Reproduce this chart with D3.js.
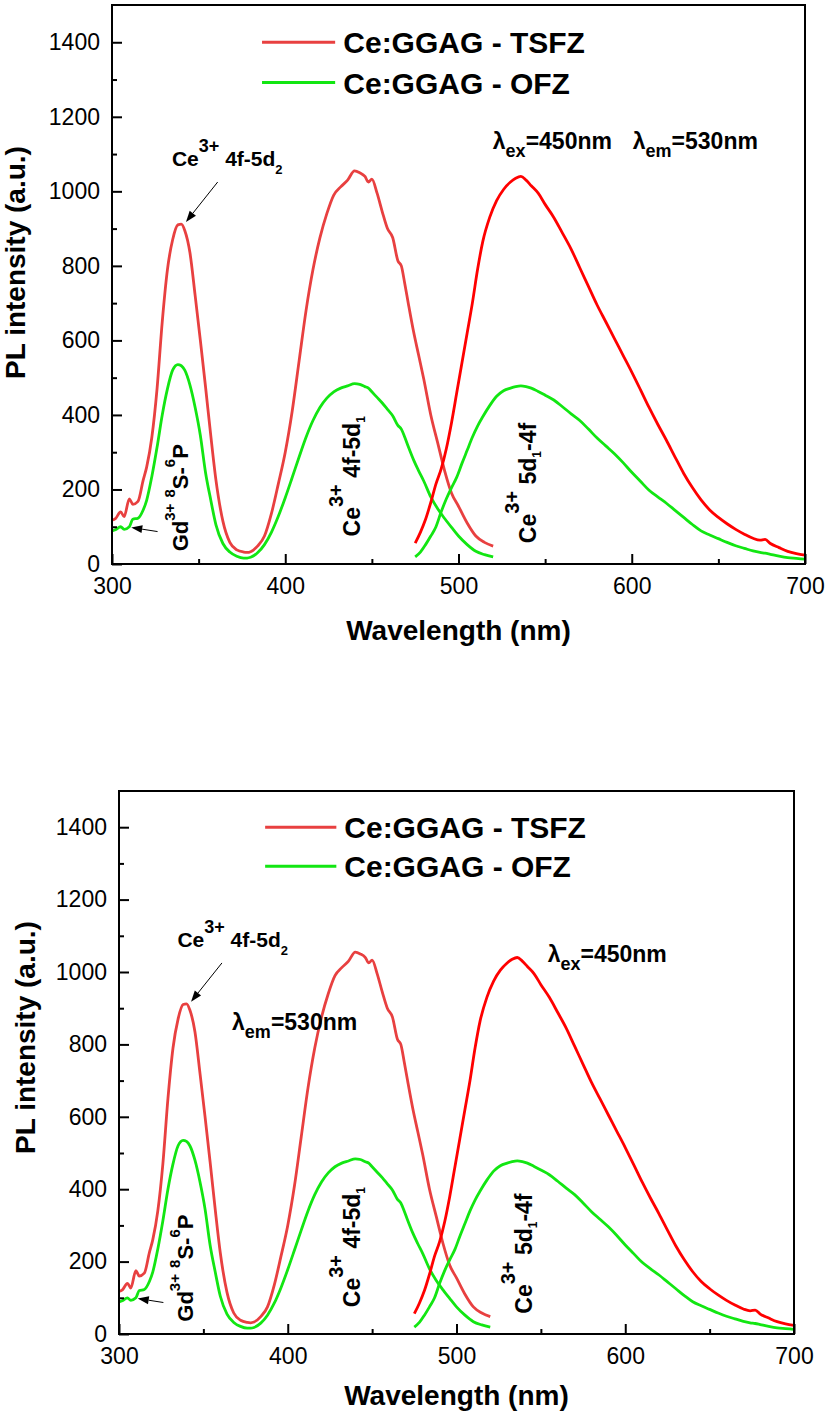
<!DOCTYPE html>
<html>
<head>
<meta charset="utf-8">
<script src="https://cdn.jsdelivr.net/npm/d3@7"></script>
<style>
  body { margin: 0; background: #fff; }
  svg { display: block; }
  text { font-family: "Liberation Sans", Arial, sans-serif; white-space: pre; }
</style>
</head>
<body>
<div id="chart"></div>
<script>
// excitation spectra (lambda_em = 530 nm)
const excWl = [300, 302, 305, 307, 310, 312, 315, 318, 320, 323, 326, 329, 332, 335, 338, 340, 342, 345, 348, 351,
  354, 357, 360, 364, 368, 372, 376, 378, 380, 384, 388, 392, 396, 400, 404, 408, 412, 416, 420, 424,
  428, 432, 436, 440, 443, 446, 448, 450, 453, 456, 459, 462, 465, 467, 469, 471, 474, 477, 480, 484,
  488, 492, 496, 500, 505, 510, 515, 520];
const excTSFZ = [118, 122, 140, 127, 175, 160, 168, 225, 260, 340, 470, 650, 790, 870, 910, 912, 895, 835, 720, 600,
  475, 345, 225, 115, 58, 38, 32, 31, 33, 48, 75, 135, 215, 300, 410, 545, 680, 790, 875, 940,
  990, 1012, 1030, 1055, 1050, 1040, 1025, 1033, 995, 945, 900, 876, 814, 800, 752, 700, 625, 560, 495, 400,
  325, 250, 190, 155, 110, 75, 58, 48];
const excOFZ = [89, 92, 100, 93, 100, 120, 123, 145, 171, 235, 313, 400, 470, 520, 535, 532, 520, 480, 420, 345,
  245, 172, 105, 55, 32, 21, 16, 16, 18, 30, 52, 85, 128, 178, 232, 287, 340, 385, 420, 445,
  462, 472, 478, 484, 482, 476, 472, 462, 447, 432, 415, 398, 372, 362, 340, 315, 280, 250, 222, 180,
  148, 122, 98, 75, 52, 34, 25, 19];

// emission spectra (lambda_ex = 450 nm)
const emWl = [475, 478, 481, 484, 487, 490, 493, 496, 499, 502, 505, 508, 511, 514, 518, 522, 526, 530, 533, 536,
  539, 542, 546, 550, 555, 560, 565, 570, 575, 580, 585, 590, 595, 600, 605, 610, 615, 620, 625, 630,
  635, 640, 645, 650, 655, 660, 665, 670, 674, 677, 680, 685, 690, 695, 700];
const emTSFZ = [56, 85, 120, 165, 215, 255, 310, 380, 460, 540, 620, 700, 790, 865, 930, 975, 1005, 1025, 1035, 1040,
  1030, 1015, 995, 965, 930, 888, 845, 795, 745, 695, 650, 605, 560, 515, 468, 420, 375, 332, 287, 243,
  205, 172, 145, 125, 108, 93, 80, 69, 64, 66, 55, 44, 34, 28, 24];
const emOFZ = [19, 32, 52, 75, 100, 140, 175, 205, 233, 270, 305, 340, 370, 395, 425, 450, 465, 472, 476, 478,
  476, 472, 463, 453, 440, 422, 403, 385, 362, 338, 317, 296, 272, 246, 222, 198, 180, 163, 144, 125,
  106, 89, 78, 68, 58, 49, 42, 35, 31, 29, 26, 21, 17, 15, 13];

const xTicks = [300, 400, 500, 600, 700];
const xMinor = [350, 450, 550, 650];
const yTicks = [0, 200, 400, 600, 800, 1000, 1200, 1400];
const yMinor = [100, 300, 500, 700, 900, 1100, 1300];
const legendLabels = ["Ce:GGAG - TSFZ", "Ce:GGAG - OFZ"];

const RED_EXC = "#e84040";
const RED_EM = "#ff0000";
const GREEN = "#12e612";

const W = 827, H = 1417;
const svg = d3.select("#chart").append("svg").attr("width", W).attr("height", H);

// two panels, same data, slightly different annotation layout
const panels = [
  {
    box: { left: 112, right: 805, top: 5, bottom: 564 },
    yLab: { dx: -87, dy: -22 }, xLabOff: 76,
    lambda: [
      { sub: "ex", val: "=450nm", at: [519.8, 1114] },
      { sub: "em", val: "=530nm", at: [600.6, 1114] }
    ]
  },
  {
    box: { left: 119, right: 794, top: 791, bottom: 1334 },
    yLab: { dx: -84, dy: -25 }, xLabOff: 71,
    lambda: [
      { sub: "em", val: "=530nm", at: [367, 840] },
      { sub: "ex", val: "=450nm", at: [554, 1028] }
    ]
  }
];

function rich(g, parts, size, x, y, rot) {
  const t = g.append("text")
    .attr("font-weight", "bold")
    .attr("font-size", size)
    .attr("fill", "#000")
    .attr("transform", `translate(${x},${y})` + (rot ? " rotate(-90)" : ""));
  let shift = 0;
  parts.forEach(p => {
    const off = p.off || 0; // positive = down
    t.append("tspan")
      .attr("dy", off - shift)
      .attr("font-size", p.size || size)
      .text(p.t);
    shift = off;
  });
  return t;
}

function arrow(g, x1, y1, x2, y2) {
  const ang = Math.atan2(y2 - y1, x2 - x1);
  const L = 11, wd = 4;
  const bx = x2 - L * Math.cos(ang), by = y2 - L * Math.sin(ang);
  g.append("line")
    .attr("x1", x1).attr("y1", y1).attr("x2", bx).attr("y2", by)
    .attr("stroke", "#000").attr("stroke-width", 1);
  const px = -Math.sin(ang) * wd, py = Math.cos(ang) * wd;
  g.append("path")
    .attr("d", `M${x2},${y2}L${bx + px},${by + py}L${bx - px},${by - py}Z`)
    .attr("fill", "#000");
}

panels.forEach(p => {
  const b = p.box;
  const g = svg.append("g");

  const x = d3.scaleLinear().domain([300, 700]).range([b.left, b.right]);
  const y = d3.scaleLinear().domain([0, 1500]).range([b.bottom, b.top]);

  // curves
  const line = d3.line().x(d => x(d[0])).y(d => y(d[1])).curve(d3.curveMonotoneX);
  const series = [
    { wl: excWl, v: excTSFZ, c: RED_EXC },
    { wl: excWl, v: excOFZ, c: GREEN },
    { wl: emWl, v: emTSFZ, c: RED_EM },
    { wl: emWl, v: emOFZ, c: GREEN }
  ];
  series.forEach(s => {
    g.append("path")
      .datum(s.wl.map((w, i) => [w, s.v[i]]))
      .attr("d", line)
      .attr("fill", "none")
      .attr("stroke", s.c)
      .attr("stroke-width", 2.8)
      .attr("stroke-linejoin", "round");
  });

  // axes, ticks pointing inward
  const xAxis = g.append("g").attr("transform", `translate(0,${b.bottom})`)
    .call(d3.axisBottom(x).tickValues(xTicks).tickFormat(d3.format("d"))
      .tickSize(-10).tickSizeOuter(0).tickPadding(14));
  g.append("g").attr("transform", `translate(0,${b.bottom})`)
    .call(d3.axisBottom(x).tickValues(xMinor).tickSize(-5).tickSizeOuter(0).tickFormat(""));
  const yAxis = g.append("g").attr("transform", `translate(${b.left},0)`)
    .call(d3.axisLeft(y).tickValues(yTicks).tickFormat(d3.format("d"))
      .tickSize(-10).tickSizeOuter(0).tickPadding(12));
  g.append("g").attr("transform", `translate(${b.left},0)`)
    .call(d3.axisLeft(y).tickValues(yMinor).tickSize(-5).tickSizeOuter(0).tickFormat(""));

  g.selectAll(".domain").remove();
  g.selectAll(".tick line").attr("stroke", "#000").attr("stroke-width", 2);
  [xAxis, yAxis].forEach(a => a.selectAll("text")
    .attr("font-size", 23).attr("fill", "#000")
    .style("font-family", "'Liberation Sans', Arial, sans-serif"));

  // frame
  g.append("rect")
    .attr("x", b.left).attr("y", b.top)
    .attr("width", b.right - b.left).attr("height", b.bottom - b.top)
    .attr("fill", "none").attr("stroke", "#000").attr("stroke-width", 2);

  // axis titles
  g.append("text")
    .attr("transform", `translate(${(b.left + b.right) / 2},${b.bottom + p.xLabOff})`)
    .attr("text-anchor", "middle").attr("font-size", 28).attr("font-weight", "bold")
    .text("Wavelength (nm)");
  g.append("text")
    .attr("transform", `translate(${b.left + p.yLab.dx},${(b.top + b.bottom) / 2 + p.yLab.dy}) rotate(-90)`)
    .attr("text-anchor", "middle").attr("font-size", 28).attr("font-weight", "bold")
    .text("PL intensity (a.u.)");

  // legend
  [RED_EXC, GREEN].forEach((c, i) => {
    const ly = y(i === 0 ? 1400 : 1292);
    g.append("line")
      .attr("x1", x(386.6)).attr("x2", x(428.8))
      .attr("y1", ly).attr("y2", ly)
      .attr("stroke", c).attr("stroke-width", 3);
    g.append("text")
      .attr("x", x(433.5)).attr("y", ly + 11)
      .attr("font-size", 30).attr("font-weight", "bold")
      .text(legendLabels[i]);
  });

  // annotations
  rich(g, [
    { t: "Ce" }, { t: "3+", size: 18, off: -14 }, { t: " 4f-5d", off: 0 }, { t: "2", size: 13, off: 8 }
  ], 21, x(334.6), y(1068));
  arrow(g, x(361), y(1025), x(342.7), y(918));

  rich(g, [
    { t: "Gd" }, { t: "3+", size: 15, off: -13 }, { t: " " }, { t: "8", size: 15, off: -13 },
    { t: "S-", off: 0 }, { t: "6", size: 15, off: -13 }, { t: "P", off: 0 }
  ], 22, x(343.8), y(34), true);
  arrow(g, x(326.3), y(87), x(311.1), y(98));

  rich(g, [
    { t: "Ce" }, { t: "3+", size: 20, off: -17 }, { t: " 4f-5d", off: 0 }, { t: "1", size: 12, off: 5 }
  ], 23, x(443), y(74), true);

  rich(g, [
    { t: "Ce" }, { t: "3+", size: 20, off: -17 }, { t: " 5d", off: 0 }, { t: "1", size: 12, off: 5 },
    { t: "-4f", off: 0 }
  ], 23, x(544.5), y(56), true);

  p.lambda.forEach(l => {
    rich(g, [
      { t: "λ" }, { t: l.sub, size: 18, off: 8 }, { t: l.val, off: 0 }
    ], 23, x(l.at[0]), y(l.at[1]));
  });
});
</script>
</body>
</html>
